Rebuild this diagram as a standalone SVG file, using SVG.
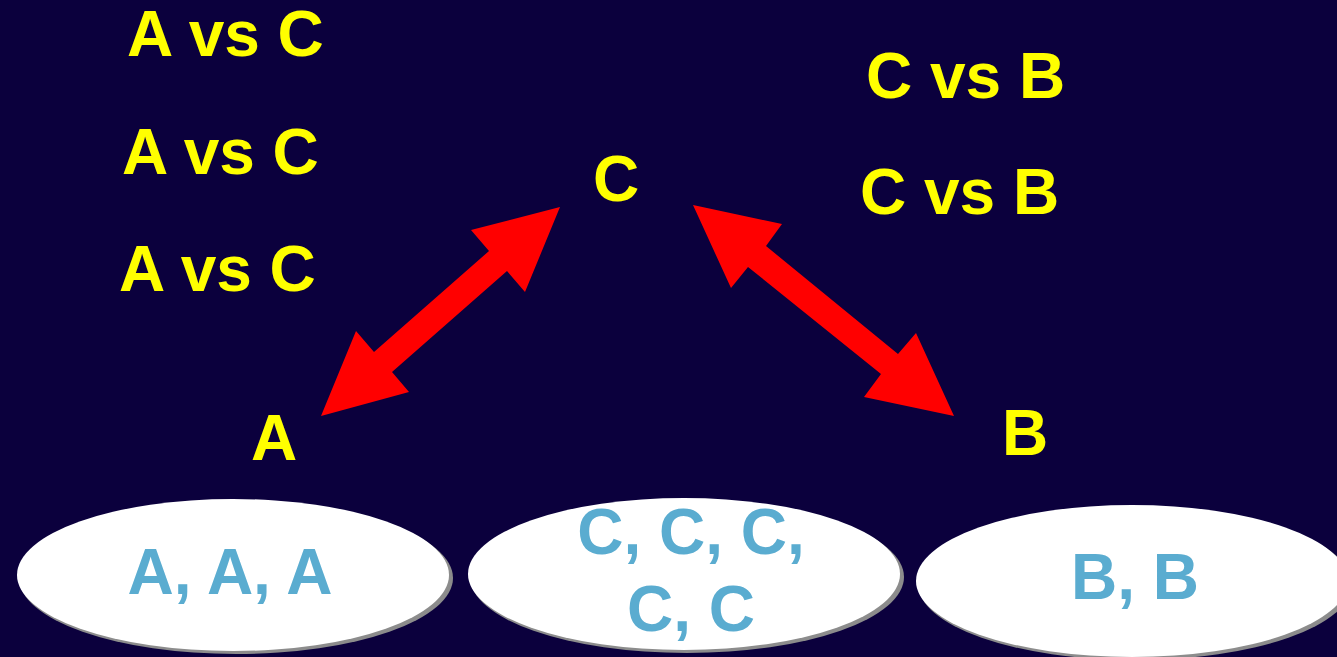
<svg xmlns="http://www.w3.org/2000/svg" width="1337" height="657" viewBox="0 0 1337 657">
<style>
.lbl{font-family:"Liberation Sans",Arial,sans-serif;font-weight:bold;font-size:64px;fill:#ffff00}
.set{font-family:"Liberation Sans",Arial,sans-serif;font-weight:bold;font-size:64px;fill:#5aacd0;text-anchor:middle}
.shadow{fill:#8c8c8c}
.oval{fill:#ffffff}
.arrow{fill:#ff0000}
</style>
<rect width="1337" height="657" fill="#0b003d"/>
<g id="comparisons">
<text class="lbl" x="127" y="56">A vs C</text>
<text class="lbl" x="122" y="174">A vs C</text>
<text class="lbl" x="119" y="291">A vs C</text>
<text class="lbl" x="866" y="98">C vs B</text>
<text class="lbl" x="860" y="214">C vs B</text>
</g>
<g id="node-C"><text class="lbl" x="593" y="201">C</text></g>
<g id="node-A"><text class="lbl" x="251" y="460">A</text></g>
<g id="node-B"><text class="lbl" x="1002" y="455">B</text></g>
<g id="connectors">
<polygon class="arrow" points="560,207 525,292 507,271 392,372 409,392 321,416 356,331 374,352 489,251 471,230"/>
<polygon class="arrow" points="693,205 782,224 766,246 898,354 916,333 954,416 864,397 881,374 748,267 731,288"/>
</g>
<g id="set-A">
<ellipse class="shadow" cx="236" cy="578" rx="217" ry="76"/>
<ellipse class="oval" cx="233" cy="575" rx="216" ry="76"/>
<text class="set" x="230" y="594">A, A, A</text>
</g>
<g id="set-C">
<ellipse class="shadow" cx="687" cy="577" rx="217" ry="76"/>
<ellipse class="oval" cx="684" cy="574" rx="216" ry="76"/>
<text class="set" x="691" y="554">C, C, C,</text>
<text class="set" x="691" y="631">C, C</text>
</g>
<g id="set-B">
<ellipse class="shadow" cx="1135" cy="584" rx="217" ry="76"/>
<ellipse class="oval" cx="1132" cy="581" rx="216" ry="76"/>
<text class="set" x="1135" y="599">B, B</text>
</g>
</svg>
